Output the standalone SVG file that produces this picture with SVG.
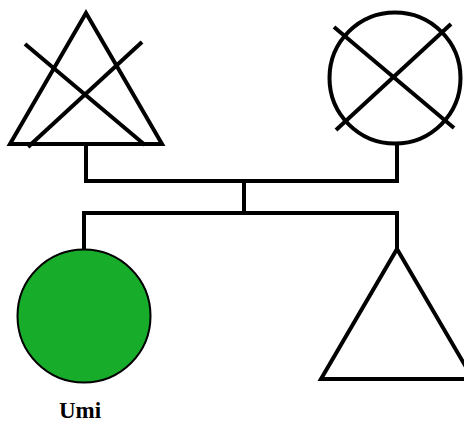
<svg xmlns="http://www.w3.org/2000/svg" width="464" height="423" viewBox="0 0 464 423">
  <style>
    .sym { fill: none; stroke: #000; stroke-width: 4; stroke-linejoin: miter; }
    .cross { stroke: #000; stroke-width: 4; }
    .link { fill: none; stroke: #000; stroke-width: 4; }
    .label { font-family: "Liberation Serif", "Times New Roman", serif; font-weight: bold; font-size: 23px; fill: #000; }
  </style>
  <rect width="464" height="423" fill="#fff"/>

  <g id="connectors">
    <polyline class="link" points="86,144 86,181 397,181 397,144"/>
    <line class="link" x1="244" y1="181" x2="244" y2="213"/>
    <polyline class="link" points="84,249 84,213 397,213 397,249"/>
  </g>

  <g id="father">
    <polygon class="sym" points="86,13 162,144 10,144"/>
    <line class="cross" x1="25" y1="44" x2="145" y2="145"/>
    <line class="cross" x1="142" y1="42" x2="28" y2="147"/>
  </g>

  <g id="mother">
    <circle class="sym" cx="395" cy="78" r="65.5"/>
    <line class="cross" x1="334" y1="27" x2="454" y2="128"/>
    <line class="cross" x1="451" y1="24" x2="336" y2="130"/>
  </g>

  <g id="umi">
    <circle cx="84" cy="316" r="66.5" fill="#17ad2a" stroke="#000" stroke-width="2"/>
    <text class="label" x="80" y="418" text-anchor="middle">Umi</text>
  </g>

  <g id="brother">
    <polygon class="sym" points="397,249 473,379 321,379"/>
  </g>
</svg>
